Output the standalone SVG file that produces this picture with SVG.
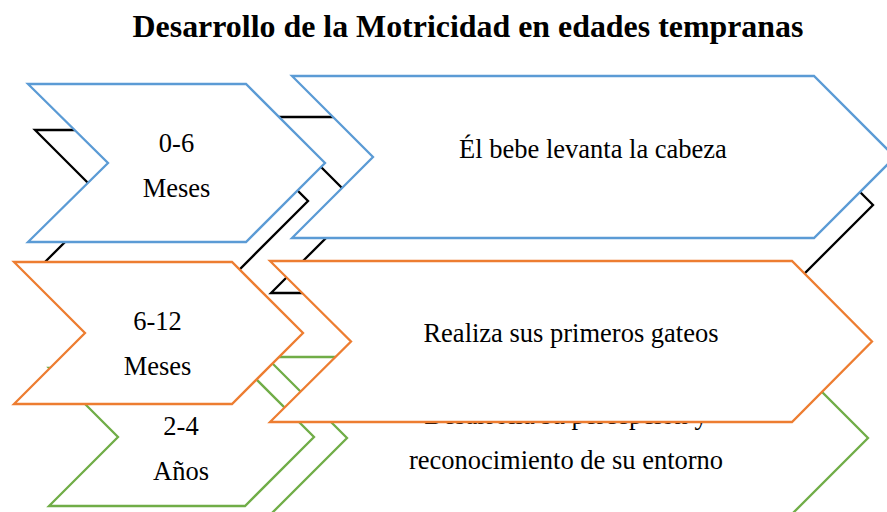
<svg xmlns="http://www.w3.org/2000/svg" width="887" height="512" viewBox="0 0 887 512">
<style>
.s{fill:#fff;stroke-width:2.3;stroke-linejoin:miter}
.k{stroke:#000}.b{stroke:#5B9BD5}.o{stroke:#ED7D31}.g{stroke:#70AD47}
text{font-family:"Liberation Serif","Times New Roman",serif;font-size:26.5px;fill:#000;text-anchor:middle}
.t{font-size:31.9px;font-weight:bold}
</style>
<rect width="887" height="512" fill="#fff"/>
<text class="t" x="468" y="37">Desarrollo de la Motricidad en edades tempranas</text>
<g id="black1"><polygon class="s k" points="35,130 237,130 308,201 237,272 35,272 106,201"/></g>
<g id="black2"><polygon class="s k" points="271,117 785,117 873,205 785,293 271,293 359,205"/></g>
<g id="green1"><polygon class="s g" points="49,368 245,368 314,437 245,506 49,506 118,437"/>
<text x="181" y="435">2-4</text><text x="181" y="480">Años</text></g>
<g id="green2"><polygon class="s g" points="266,357 787,357 868,438 787,519 266,519 347,438"/>
<text x="566" y="424">Desarrolla su percepción y</text><text x="566" y="469">reconocimiento de su entorno</text></g>
<g id="blue1"><polygon class="s b" points="28,84 246,84 325,163 246,242 28,242 108,163"/>
<text x="176.5" y="152">0-6</text><text x="176.5" y="197">Meses</text></g>
<g id="blue2"><polygon class="s b" points="292,76 814,76 895,157 814,238 292,238 373,157"/>
<text x="593" y="158">Él bebe levanta la cabeza</text></g>
<g id="orange1"><polygon class="s o" points="14,262 232,262 303,333 232,404 14,404 85,333"/>
<text x="157.5" y="330">6-12</text><text x="157.5" y="375">Meses</text></g>
<g id="orange2"><polygon class="s o" points="270,261 792,261 872,341.5 792,422 270,422 351,341.5"/>
<text x="571" y="342">Realiza sus primeros gateos</text></g>
</svg>
